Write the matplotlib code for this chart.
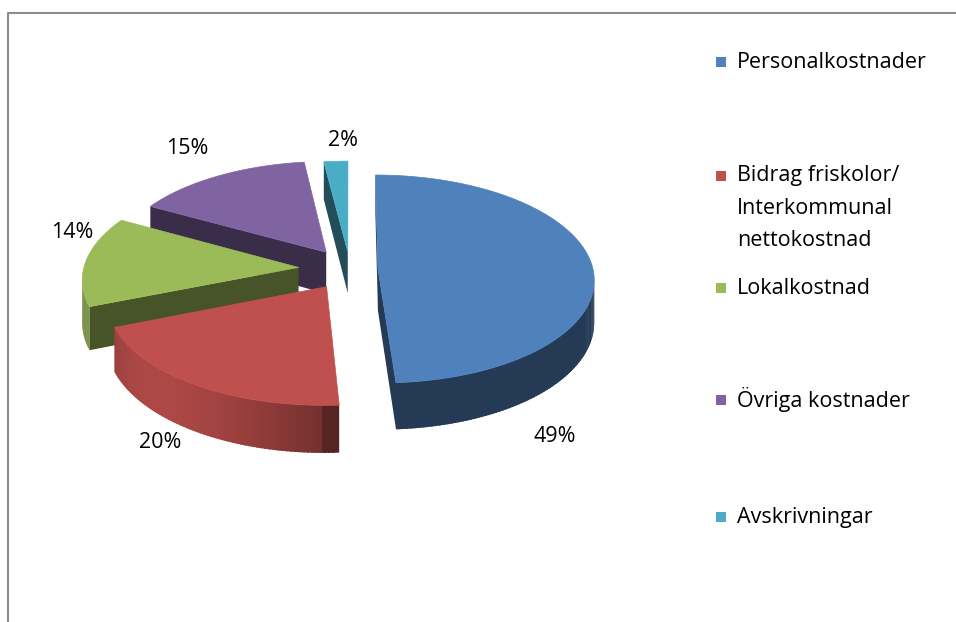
import numpy as np
import matplotlib
matplotlib.use('Agg')
import matplotlib.pyplot as plt
from matplotlib.patches import Polygon, Rectangle
from matplotlib.lines import Line2D
from matplotlib.colors import to_rgb

# data
labels = ['Personalkostnader', 'Bidrag friskolor/\nInterkommunal\nnettokostnad',
          'Lokalkostnad', 'Övriga kostnader', 'Avskrivningar']
values = [49, 20, 14, 15, 2]
colors = ['#4F81BD', '#C0504D', '#9BBB59', '#8064A2', '#4BACC6']

# where Excel put the percentage labels and legend rows (pixels)
pct_pos = [(555, 437), (160, 442), (72, 233), (187, 148), (343, 140)]
legend_y = [62, 176, 288, 400, 517]

FONT = 'Open Sans'
FS = 15.5

# 3d pie geometry, pixel space
CX, CY = 350, 269
RX, RY = 215, 103
DEPTH = 42
PERSP = 0.1
# slices were pulled out by hand, different amounts
EXPLODE = [0.13, 0.2, 0.24, 0.2, 0.17]


def proj(u, v, z):
    s = 1.0 / (1.0 + PERSP * v)
    return CX + RX * u * s, CY - RY * v * s + DEPTH * (1 - z) * s


def area(pts):
    p = np.asarray(pts)
    x, y = p[:, 0], p[:, 1]
    return 0.5 * np.sum(x * np.roll(y, -1) - np.roll(x, -1) * y)


def shade(c, f):
    return tuple(np.clip(np.array(to_rgb(c)) * f, 0, 1))


def wall_light(t):
    # right half of the rim stays dark, left-front catches the light
    if np.sin(t) > 0:
        return 0.45
    return 0.6 + 0.6 * (-np.sin(t)) * max(0, -np.cos(t))


fig = plt.figure(figsize=(9.56, 6.22), dpi=100)
ax = fig.add_axes([0, 0, 1, 1])
ax.set_xlim(0, 956)
ax.set_ylim(622, 0)
ax.axis('off')

fr = np.array(values, float) / sum(values)
edges = np.concatenate([[0], np.cumsum(fr)]) * 2 * np.pi

slices = []
for i in range(len(values)):
    a1, a2 = edges[i], edges[i + 1]
    mid = (a1 + a2) / 2
    ou, ov = EXPLODE[i] * np.sin(mid), EXPLODE[i] * np.cos(mid)
    slices.append((ov, i, a1, a2, ou))

# back to front
slices.sort(key=lambda t: -t[0])

for ov, i, a1, a2, ou in slices:
    col = colors[i]
    n = max(int(np.degrees(a2 - a1)), 3)
    th = np.linspace(a1, a2, n + 1)
    step = th[1] - th[0]

    def rim(t, z):
        return proj(ou + np.sin(t), ov + np.cos(t), z)

    top = [proj(ou, ov, 1)] + [rim(t, 1) for t in th]
    sgn = np.sign(area(top))

    faces = []
    # radial walls
    faces.append(([proj(ou, ov, 1), proj(ou, ov, 0), rim(a1, 0), rim(a1, 1)], 0.45))
    faces.append(([proj(ou, ov, 1), rim(a2, 1), rim(a2, 0), proj(ou, ov, 0)], 0.45))
    # outer wall, small overlapping strips
    for ta in th[:-1]:
        tb = min(ta + step * 1.6, a2)
        faces.append(([rim(ta, 1), rim(ta, 0), rim(tb, 0), rim(tb, 1)],
                      wall_light(ta + step / 2)))

    for pts, f in faces:
        if np.sign(area(pts)) == sgn:
            c = shade(col, f)
            ax.add_patch(Polygon(pts, closed=True, fc=c, ec='none', lw=0))
    ax.add_patch(Polygon(top, closed=True, fc=col, ec=col, lw=0.5))

# percent labels
for v, (x, y) in zip(values, pct_pos):
    ax.text(x, y, f'{v}%', ha='center', va='center', fontsize=FS,
            family=FONT, color='black')

# legend
for lab, col, y in zip(labels, colors, legend_y):
    ax.add_patch(Rectangle((716, y - 5), 10, 10, fc=col, ec='none'))
    for k, line in enumerate(lab.split('\n')):
        ax.text(737, y + 32 * k, line, ha='left', va='center', fontsize=FS,
                family=FONT, color='black')

# chart frame (cropped at right and bottom)
ax.add_line(Line2D([8, 8, 956], [622, 13, 13], color='#8c8c8c', lw=1.5))

fig.savefig('out.png', dpi=100, facecolor='white')
